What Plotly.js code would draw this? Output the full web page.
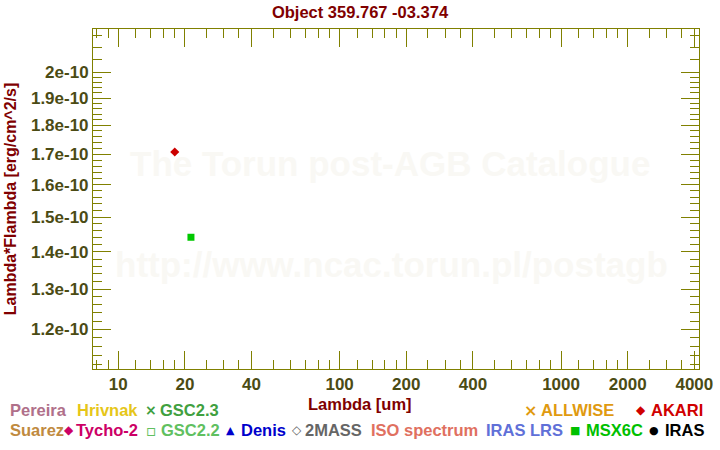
<!DOCTYPE html>
<html>
<head>
<meta charset="utf-8">
<script src="https://cdn.plot.ly/plotly-3.0.1.min.js"></script>
<style>html,body{margin:0;padding:0;background:#fff;}#chart{width:720px;height:450px;}</style>
</head>
<body>
<div id="chart"></div>
<script>
// ---- data ----
const akariWavelength = [18.0];
const akariFlux = [1.707e-10];
const msxWavelength = [21.3];
const msxFlux = [1.441e-10];

const xTickVals = [10, 20, 40, 100, 200, 400, 1000, 2000, 4000];
const xTickText = ['10', '20', '40', '100', '200', '400', '1000', '2000', '4000'];
const xMinorVals = [8, 9, 12, 14, 16, 18, 25, 30, 35, 50, 60, 70, 80, 90,
  120, 140, 160, 180, 250, 300, 350, 500, 600, 700, 800, 900,
  1200, 1400, 1600, 1800, 2500, 3000, 3500];
const yTickVals = [1.2e-10, 1.3e-10, 1.4e-10, 1.5e-10, 1.6e-10, 1.7e-10, 1.8e-10, 1.9e-10, 2.0e-10];
const yTickText = ['1.2e-10', '1.3e-10', '1.4e-10', '1.5e-10', '1.6e-10', '1.7e-10', '1.8e-10', '1.9e-10', '2e-10'];
const yMinorVals = [1.12e-10, 1.14e-10, 1.16e-10, 1.18e-10,
  1.22e-10, 1.24e-10, 1.26e-10, 1.28e-10,
  1.32e-10, 1.34e-10, 1.36e-10, 1.38e-10,
  1.42e-10, 1.44e-10, 1.46e-10, 1.48e-10,
  1.52e-10, 1.54e-10, 1.56e-10, 1.58e-10,
  1.62e-10, 1.64e-10, 1.66e-10, 1.68e-10,
  1.72e-10, 1.74e-10, 1.76e-10, 1.78e-10,
  1.82e-10, 1.84e-10, 1.86e-10, 1.88e-10,
  1.92e-10, 1.94e-10, 1.96e-10, 1.98e-10,
  2.05e-10, 2.10e-10, 2.15e-10];

const legendRow1 = ['Pereira', 'Hrivnak', 'GSC2.3', 'ALLWISE', 'AKARI'];
const legendRow2 = ['Suarez', 'Tycho-2', 'GSC2.2', 'Denis', '2MASS', 'ISO spectrum', 'IRAS LRS', 'MSX6C', 'IRAS'];

// ---- layout helpers ----
const W = 720, H = 450;
const M = {l: 93, r: 21, t: 29, b: 81};
const PW = W - M.l - M.r, PH = H - M.t - M.b;
const px = v => (v - M.l) / PW;
const py = v => (H - M.b - v) / PH;

const FONT = 'Liberation Sans, Arial, sans-serif';
const OLIVE = '#808000';
const TICKTXT = '#4b4b14';
const DARKRED = '#800000';

// legend styling: [colour, symbol, symbolX, textX, rowY, symbolSize, symbolBold]
const legendStyle = {
  'Pereira': ['#b0708a', '', 0, 10, 410, 0, false],
  'Hrivnak': ['#e6c619', '', 0, 77, 410, 0, false],
  'GSC2.3': ['#40a040', '\u00d7', 151, 160, 410, 14, true],
  'ALLWISE': ['#e09a10', '\u00d7', 530, 541, 410, 16, true],
  'AKARI': ['#d00000', '\u25c6', 641, 651, 410, 12, false],
  'Suarez': ['#c08a40', '', 0, 10, 430, 0, false],
  'Tycho-2': ['#cc0066', '\u25c6', 69, 76, 430, 12, false],
  'GSC2.2': ['#60c060', '\u25ab', 151, 161, 430, 16, true],
  'Denis': ['#0000cc', '\u25b2', 230, 241, 430, 11, false],
  '2MASS': ['#666666', '\u25c7', 297, 305, 430, 12, true],
  'ISO spectrum': ['#e07060', '', 0, 371, 430, 0, false],
  'IRAS LRS': ['#6070d8', '', 0, 486, 430, 0, false],
  'MSX6C': ['#00c000', '\u25a0', 575, 586, 430, 11, false],
  'IRAS': ['#000000', '\u25cf', 654, 665, 430, 11, false]
};

const annotations = [];
legendRow1.concat(legendRow2).forEach(name => {
  const s = legendStyle[name];
  annotations.push({
    xref: 'paper', yref: 'paper', x: px(s[3]), y: py(s[4]),
    xanchor: 'left', yanchor: 'middle', showarrow: false,
    borderpad: 0, borderwidth: 0,
    text: name, font: {family: FONT, size: 16.5, weight: 'bold', color: s[0]}
  });
  if (s[1]) {
    annotations.push({
      xref: 'paper', yref: 'paper', x: px(s[2]), y: py(s[4]),
      xanchor: 'center', yanchor: 'middle', showarrow: false,
      borderpad: 0, borderwidth: 0,
      text: s[1], font: {family: 'DejaVu Sans', size: s[5], weight: s[6] ? 'bold' : 'normal', color: s[0]}
    });
  }
});

// watermark
annotations.push({
  xref: 'paper', yref: 'paper', x: px(390), y: py(163), xanchor: 'center', yanchor: 'middle',
  showarrow: false, text: 'The Torun post-AGB Catalogue',
  font: {family: FONT, size: 35, weight: 'bold', color: '#f9f8f4'}
});
annotations.push({
  xref: 'paper', yref: 'paper', x: px(391), y: py(264), xanchor: 'center', yanchor: 'middle',
  showarrow: false, text: 'http://www.ncac.torun.pl/postagb',
  font: {family: FONT, size: 35, weight: 'bold', color: '#f9f8f4'}
});
// x axis title (centered on the page in the reference)
annotations.push({
  xref: 'paper', yref: 'paper', x: px(360), y: py(404), xanchor: 'center', yanchor: 'middle',
  showarrow: false, borderpad: 0, borderwidth: 0, text: 'Lambda [um]',
  font: {family: FONT, size: 16.5, weight: 'bold', color: DARKRED}
});

const traces = [
  {x: akariWavelength, y: akariFlux, name: 'AKARI', type: 'scatter', mode: 'markers',
   marker: {symbol: 'diamond', size: 7, color: '#cc0000'}},
  {x: msxWavelength, y: msxFlux, name: 'MSX6C', type: 'scatter', mode: 'markers',
   marker: {symbol: 'square', size: 7, color: '#00c800'}}
];

const axisCommon = {
  type: 'log', showgrid: false, zeroline: false,
  showline: true, linecolor: OLIVE, linewidth: 1, mirror: 'allticks',
  ticks: 'inside', ticklen: 18, tickwidth: 1, tickcolor: OLIVE,
  tickmode: 'array',
  tickfont: {family: FONT, size: 17, weight: 'bold', color: TICKTXT}
};

const layout = {
  width: W, height: H,
  margin: M,
  paper_bgcolor: '#ffffff', plot_bgcolor: '#ffffff',
  showlegend: false,
  title: {
    text: 'Object 359.767 -03.374', xref: 'container', x: 0.5, xanchor: 'center',
    yref: 'container', y: 1 - 12 / H, yanchor: 'middle',
    font: {family: FONT, size: 16.5, weight: 'bold', color: DARKRED}
  },
  xaxis: Object.assign({}, axisCommon, {
    range: [0.886, 3.623],
    tickvals: xTickVals, ticktext: xTickText,
    minor: {tickmode: 'array', tickvals: xMinorVals, ticks: 'inside', ticklen: 9, tickwidth: 1, tickcolor: OLIVE, showgrid: false}
  }),
  yaxis: Object.assign({}, axisCommon, {
    range: [Math.log10(1.109e-10), Math.log10(2.18e-10)],
    tickvals: yTickVals, ticktext: yTickText,
    minor: {tickmode: 'array', tickvals: yMinorVals, ticks: 'inside', ticklen: 9, tickwidth: 1, tickcolor: OLIVE, showgrid: false},
    title: {text: 'Lambda*Flambda [erg/cm^2/s]', standoff: 10,
      font: {family: FONT, size: 16, weight: 'bold', color: DARKRED}}
  }),
  annotations: annotations
};

Plotly.newPlot('chart', traces, layout, {displayModeBar: false, staticPlot: true});
</script>
</body>
</html>
